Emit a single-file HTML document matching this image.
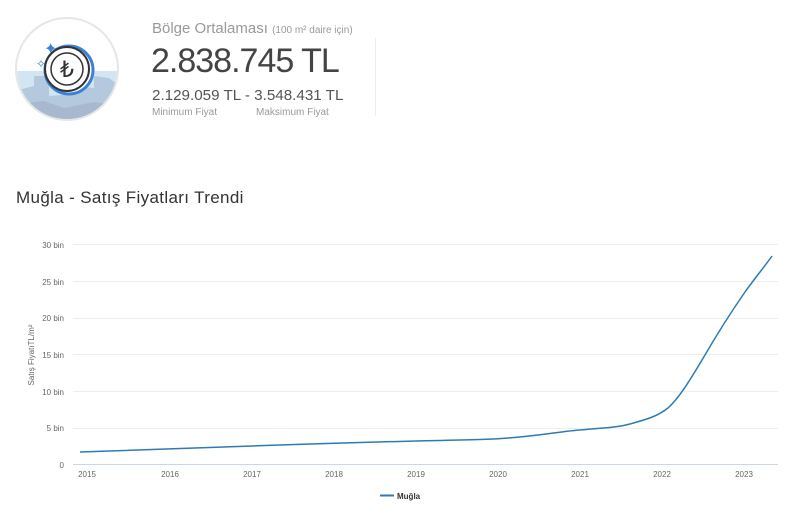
<!DOCTYPE html>
<html><head><meta charset="utf-8"><style>
body{margin:0;width:800px;height:524px;background:#fff;font-family:"Liberation Sans",sans-serif;overflow:hidden;position:relative}
.a{position:absolute;white-space:nowrap}
</style></head><body>
<svg class="a" style="left:14px;top:16px" width="106" height="106" viewBox="0 0 106 106">
<defs><clipPath id="c"><circle cx="53" cy="53" r="50"/></clipPath></defs>
<circle cx="53" cy="53" r="51" fill="#fff" stroke="#e6e6e6" stroke-width="2"/>
<g clip-path="url(#c)">
<rect x="0" y="55" width="106" height="60" fill="#d3e5f3"/>
<path d="M0 75 L20 70 L20 60 L35 60 L35 80 L60 78 L60 70 L80 72 L80 60 L95 62 L106 70 L106 110 L0 110Z" fill="#b5c9de"/>
<path d="M0 88 L30 85 L50 92 L80 86 L106 90 L106 110 L0 110Z" fill="#a8b9cf"/>
</g>
<circle cx="55" cy="54" r="24" fill="#fff" stroke="#3b82d6" stroke-width="3"/>
<circle cx="53" cy="53" r="22" fill="#fff" stroke="#333" stroke-width="2"/>
<circle cx="53" cy="53" r="16" fill="#fff" stroke="#333" stroke-width="1.5"/>
<text x="53" y="61" font-size="22" text-anchor="middle" fill="#333" font-family="DejaVu Sans">₺</text>
<text x="30" y="38" font-size="16" fill="#3b82d6" font-family="DejaVu Sans">✦</text>
<text x="22" y="52" font-size="12" fill="#3b82d6" font-family="DejaVu Sans">✧</text>
</svg>
<div class="a" style="left:152px;top:20px;font-size:15px;color:#999">Bölge Ortalaması <span style="font-size:10px">(100 m² daire için)</span></div>
<div class="a" style="left:151px;top:42px;font-size:34px;letter-spacing:-1px;color:#444">2.838.745 TL</div>
<div class="a" style="left:152px;top:87px;font-size:15.2px;color:#555">2.129.059 TL - 3.548.431 TL</div>
<div class="a" style="left:152px;top:107px;font-size:10px;color:#999">Minimum Fiyat</div>
<div class="a" style="left:256px;top:107px;font-size:10px;color:#999">Maksimum Fiyat</div>
<div class="a" style="left:375px;top:38px;width:1px;height:78px;background:#eee"></div>
<div class="a" style="left:16px;top:188px;font-size:17px;letter-spacing:0.35px;color:#333">Muğla - Satış Fiyatları Trendi</div>
<svg class="a" style="left:0;top:0" width="800" height="524">
<g stroke="#eceef2" stroke-width="1">
<line x1="73" x2="778" y1="244.5" y2="244.5"/><line x1="73" x2="778" y1="281.5" y2="281.5"/>
<line x1="73" x2="778" y1="318.5" y2="318.5"/><line x1="73" x2="778" y1="354.5" y2="354.5"/>
<line x1="73" x2="778" y1="391.5" y2="391.5"/><line x1="73" x2="778" y1="428.5" y2="428.5"/>
</g>
<line x1="73" x2="778" y1="464.5" y2="464.5" stroke="#ccd6eb"/>
<g font-size="8" fill="#666" text-anchor="end">
<text x="64" y="248">30 bin</text><text x="64" y="285">25 bin</text><text x="64" y="321">20 bin</text>
<text x="64" y="358">15 bin</text><text x="64" y="395">10 bin</text><text x="64" y="431">5 bin</text><text x="64" y="468">0</text>
</g>
<g font-size="8" fill="#666" text-anchor="middle">
<text x="87" y="477">2015</text><text x="170" y="477">2016</text><text x="252" y="477">2017</text><text x="334" y="477">2018</text>
<text x="416" y="477">2019</text><text x="498" y="477">2020</text><text x="580" y="477">2021</text><text x="662" y="477">2022</text><text x="744" y="477">2023</text>
</g>
<text transform="translate(34,355) rotate(-90)" font-size="8" fill="#666" text-anchor="middle">Satış FiyatıTL/m²</text>
<path d="M80 452 C120 451 160 449 252 446 C330 443 380 442 416 441 C460 440 490 440 520 437 C550 434 565 431 580 430 C600 428 615 428 630 424 C648 419 658 416 668 408 C680 397 690 380 705 355 C716 336 727 318 745 292 C755 278 765 266 772 256" fill="none" stroke="#2f7ab3" stroke-width="1.5"/>
<line x1="380" x2="394" y1="495.5" y2="495.5" stroke="#2f7ab3" stroke-width="2"/>
<text x="397" y="499" font-size="8" font-weight="bold" fill="#333">Muğla</text>
</svg>
</body></html>
